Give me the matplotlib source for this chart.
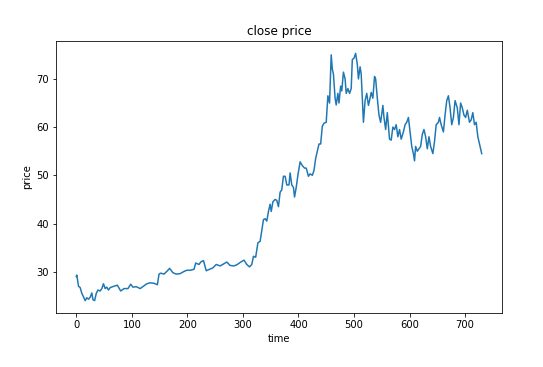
import matplotlib
matplotlib.use("Agg")
import matplotlib.pyplot as plt

# time index and close price
times = [0, 1, 2, 4, 7, 10, 13, 16, 19, 22, 25, 28, 30, 33, 36, 39, 43, 46, 49, 52,
         55, 58, 61, 68, 74, 80, 86, 93, 98, 102, 108, 115, 121, 127, 133, 140, 146, 149, 152, 158,
         165, 168, 174, 180, 187, 193, 199, 205, 212, 215, 221, 224, 229, 234, 240, 246, 252, 259, 265, 271,
         277, 284, 290, 296, 302, 307, 312, 316, 319, 323, 327, 331, 334, 337, 340, 343, 346, 349, 351, 354,
         358, 361, 364, 367, 370, 373, 376, 379, 383, 385, 388, 391, 393, 396, 399, 403, 407, 411, 414, 418,
         421, 425, 428, 431, 434, 437, 440, 443, 446, 450, 453, 456, 459, 461, 463, 466, 468, 471, 473, 476,
         478, 481, 484, 486, 489, 492, 495, 497, 500, 503, 506, 508, 511, 513, 517, 520, 523, 526, 528, 531,
         534, 537, 539, 542, 545, 548, 552, 554, 557, 560, 564, 567, 570, 573, 576, 579, 582, 585, 589, 592,
         595, 598, 601, 604, 607, 609, 611, 614, 617, 620, 623, 626, 629, 632, 635, 638, 642, 645, 648, 652,
         654, 657, 661, 664, 667, 670, 673, 676, 679, 682, 686, 689, 692, 695, 698, 701, 704, 708, 711, 714,
         717, 720, 723, 726, 730]
prices = [29.0, 29.3, 28.5, 27.0, 26.7, 25.5, 24.8, 24.0, 24.6, 24.3, 24.7, 25.6, 24.2, 24.0, 25.5, 26.2, 26.0, 26.5, 27.5, 26.5,
          26.8, 26.2, 26.7, 27.0, 27.2, 26.0, 26.5, 26.5, 27.4, 26.8, 26.9, 26.5, 27.0, 27.5, 27.7, 27.6, 27.3, 29.5, 29.7, 29.5,
          30.3, 30.7, 29.8, 29.5, 29.6, 30.0, 30.3, 30.3, 30.5, 31.8, 31.5, 32.0, 32.3, 30.2, 30.5, 30.8, 31.5, 31.2, 31.6, 32.0,
          31.3, 31.2, 31.5, 32.0, 32.4, 31.5, 31.0, 31.5, 33.2, 33.0, 36.0, 36.3, 38.5, 40.8, 41.0, 40.5, 42.5, 44.0, 42.5, 44.5,
          45.0, 44.8, 43.5, 46.5, 47.0, 49.8, 49.8, 48.0, 48.0, 50.5, 48.0, 47.5, 45.5, 47.5, 50.0, 52.8, 52.0, 51.5, 51.5, 49.8,
          50.3, 50.0, 51.0, 53.5, 55.0, 56.5, 56.5, 60.2, 60.8, 61.0, 66.5, 65.0, 75.0, 72.0, 71.0, 66.0, 64.6, 67.0, 65.0, 68.5,
          67.5, 71.4, 70.0, 67.0, 68.0, 67.0, 68.0, 74.0, 74.3, 75.3, 73.0, 70.0, 72.5, 71.0, 61.0, 65.5, 67.0, 64.5, 65.5, 67.2,
          66.0, 70.5, 70.0, 66.0, 62.5, 61.0, 64.5, 62.0, 59.5, 63.0, 57.5, 57.3, 60.0, 59.5, 60.5, 58.0, 59.5, 57.5, 59.0, 60.5,
          61.0, 62.0, 59.0, 56.0, 54.5, 53.0, 56.0, 55.0, 55.5, 56.0, 58.5, 59.5, 58.0, 55.5, 58.0, 56.0, 54.5, 57.0, 60.5, 61.0,
          62.0, 60.5, 59.0, 62.5, 65.5, 66.5, 64.0, 60.5, 62.0, 65.5, 64.0, 60.5, 65.0, 64.0, 62.5, 62.0, 63.5, 61.0, 61.5, 63.0,
          60.5, 61.0, 58.0, 56.5, 54.5]

title = "close price"
xlabel = "time"
ylabel = "price"

fig = plt.figure(figsize=(543 / 72, 367 / 72), dpi=72)
ax = fig.add_axes([56 / 543, 1 - 313 / 367, 446 / 543, 272 / 367])
ax.plot(times, prices, color="#1f77b4", linewidth=1.5)
ax.set_title(title)
ax.set_xlabel(xlabel)
ax.set_ylabel(ylabel)
fig.savefig("out.png", dpi=72)
